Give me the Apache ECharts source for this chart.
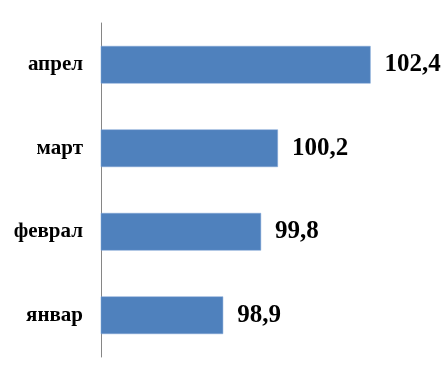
<!DOCTYPE html>
<html><head><meta charset="utf-8">
<script src="https://cdn.jsdelivr.net/npm/echarts@6/dist/echarts.min.js"></script>
<style>html,body{margin:0;padding:0;background:#fff}#c{width:445px;height:369px}</style>
</head><body><div id="c"></div>
<script>
const categories = ['январ', 'феврал', 'март', 'апрел'];
const values = [98.9, 99.8, 100.2, 102.4];

const chart = echarts.init(document.getElementById('c'));
chart.setOption({
  animation: false,
  grid: { left: 101, right: 7, top: 23, bottom: 12, containLabel: false },
  xAxis: {
    type: 'value', min: 96, max: 104,
    show: false
  },
  yAxis: {
    type: 'category', data: categories,
    axisLine: { show: true, lineStyle: { color: '#868686', width: 1 } },
    axisTick: { show: false },
    axisLabel: {
      margin: 18, color: '#000', fontFamily: 'Liberation Serif',
      fontWeight: 'bold', fontSize: 21
    }
  },
  series: [{
    type: 'bar', data: values, barWidth: '45%',
    itemStyle: { color: '#4F81BD', borderColor: '#7ea4d6', borderWidth: 0.5 },
    label: {
      show: true, position: 'right', distance: 14,
      color: '#000', fontFamily: 'Liberation Serif', fontWeight: 'bold', fontSize: 25,
      formatter: p => String(p.value).replace('.', ',')
    }
  }]
});
</script></body></html>
